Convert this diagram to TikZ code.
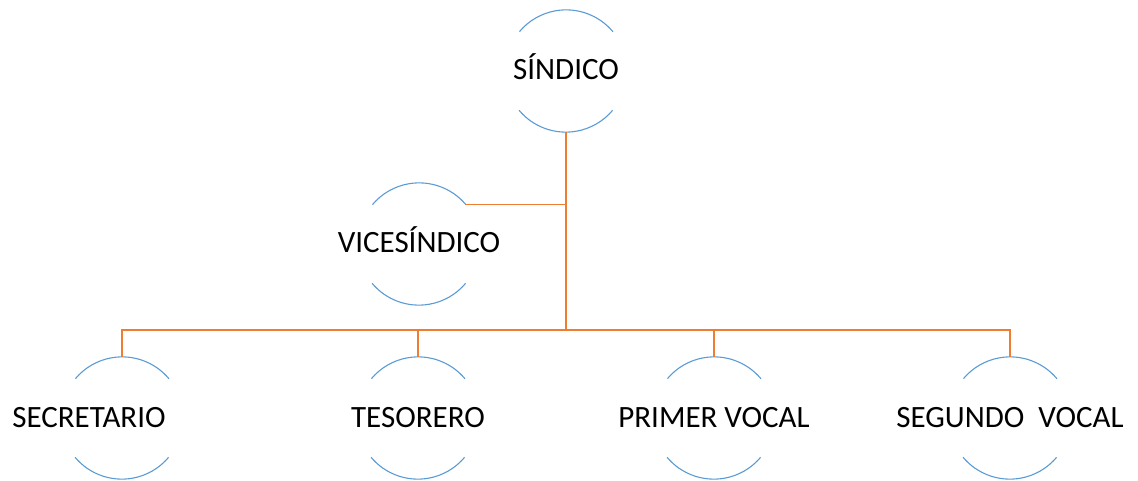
\documentclass[tikz,border=0pt]{standalone}
\usepackage{fontspec}
\setmainfont{Carlito}
\usetikzlibrary{positioning}
\definecolor{azul}{HTML}{5B9BD5}
\definecolor{naranja}{HTML}{ED7D31}

\begin{document}
\begin{tikzpicture}[x=1pt, y=1pt, font=\fontsize{31}{37}\selectfont,
  cargo/.style={circle, minimum size=122pt, inner sep=0pt},
  nombre/.style={text height=20pt, text depth=0pt, yshift=1pt},
  arco/.style={azul, line width=1.1pt},
  enlace/.style={naranja, line width=1.4pt}]
  \useasboundingbox (0,0) rectangle (1138,480);
  \node[cargo, label={[nombre]center:SÍNDICO}] (sindico) at (566,409) {};
  \node[cargo, label={[nombre]center:VICESÍNDICO}] (vice) at (419,236) {};
  \node[cargo, label={[nombre, xshift=-33pt]center:SECRETARIO}] (secretario) at (122,62) {};
  \node[cargo, label={[nombre]center:TESORERO}] (tesorero) at (418,62) {};
  \node[cargo, label={[nombre]center:PRIMER VOCAL}] (primer) at (714,62) {};
  \node[cargo, label={[nombre]center:SEGUNDO\ \ VOCAL}] (segundo) at (1010,62) {};
  % arcs above and below each name
  \foreach \n in {sindico, vice, secretario, tesorero, primer, segundo}
  {
    \draw[arco] (\n.40) arc[start angle=40, end angle=140, radius=61pt];
    \draw[arco] (\n.220) arc[start angle=220, end angle=320, radius=61pt];
  }
  \coordinate (bus) at (566,150);
  \draw[enlace] (sindico.south) -- (bus);
  \draw[enlace] (vice.40) -- (vice.40 -| sindico.south);
  \draw[enlace] (secretario.north) |- (segundo.north |- bus) -- (segundo.north);
  \draw[enlace] (tesorero.north) -- (tesorero.north |- bus);
  \draw[enlace] (primer.north) -- (primer.north |- bus);
\end{tikzpicture}
\end{document}
